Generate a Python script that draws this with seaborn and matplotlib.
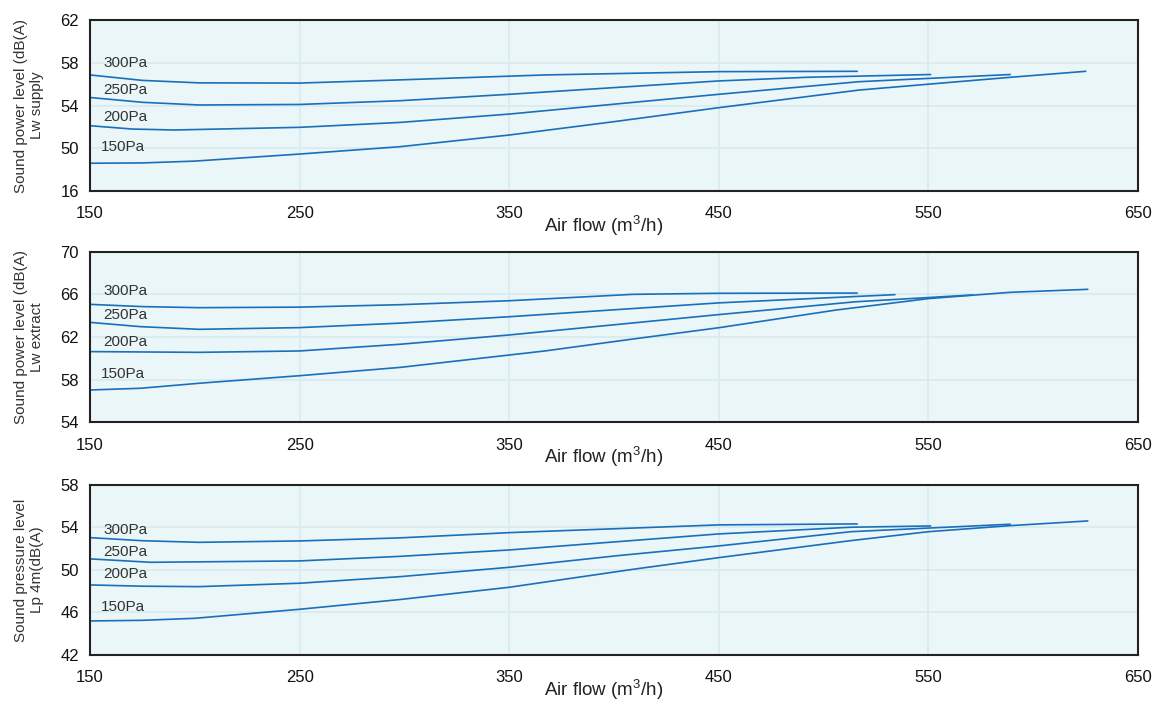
import pandas as pd
import matplotlib
matplotlib.use('Agg')
import matplotlib.pyplot as plt
import seaborn as sns

pressures = ['300Pa', '250Pa', '200Pa', '150Pa']

# Lw supply
supply_x = {
    '300Pa': [150, 175, 202, 250, 298, 367, 450, 516],
    '250Pa': [150, 175, 202, 250, 298, 350, 450, 492, 551],
    '200Pa': [150, 170, 190, 250, 298, 350, 450, 517, 589],
    '150Pa': [150, 175, 200, 250, 298, 350, 400, 450, 517, 589, 625],
}
supply_y = {
    '300Pa': [56.86, 56.35, 56.12, 56.1, 56.4, 56.86, 57.17, 57.2],
    '250Pa': [54.75, 54.3, 54.05, 54.1, 54.45, 55.05, 56.3, 56.64, 56.9],
    '200Pa': [52.11, 51.8, 51.71, 51.96, 52.42, 53.2, 55.05, 56.23, 56.9],
    '150Pa': [48.6, 48.63, 48.8, 49.46, 50.15, 51.24, 52.49, 53.8, 55.45, 56.64, 57.2],
}

# Lw extract
extract_x = {
    '300Pa': [150, 175, 202, 250, 298, 350, 409, 450, 516],
    '250Pa': [150, 174, 202, 250, 298, 350, 450, 534],
    '200Pa': [150, 202, 250, 298, 350, 450, 515, 571],
    '150Pa': [150, 174, 202, 250, 298, 350, 367, 409, 450, 506, 550, 589, 626],
}
extract_y = {
    '300Pa': [65.06, 64.85, 64.75, 64.8, 65.03, 65.4, 66.0, 66.1, 66.12],
    '250Pa': [63.37, 62.97, 62.72, 62.88, 63.3, 63.9, 65.2, 65.97],
    '200Pa': [60.63, 60.56, 60.69, 61.32, 62.19, 64.1, 65.3, 65.94],
    '150Pa': [57.03, 57.19, 57.66, 58.37, 59.15, 60.31, 60.69, 61.81, 62.87, 64.53, 65.6, 66.19, 66.47],
}

# Lp 4m
lp_x = {
    '300Pa': [150, 175, 202, 250, 298, 350, 450, 516],
    '250Pa': [150, 179, 250, 298, 350, 450, 513, 551],
    '200Pa': [150, 175, 202, 250, 298, 350, 402, 450, 513, 589],
    '150Pa': [150, 175, 200, 250, 298, 350, 409, 450, 513, 550, 589, 626],
}
lp_y = {
    '300Pa': [53.04, 52.75, 52.6, 52.73, 53.02, 53.51, 54.24, 54.33],
    '250Pa': [51.04, 50.72, 50.85, 51.28, 51.88, 53.39, 54.02, 54.14],
    '200Pa': [48.59, 48.47, 48.43, 48.75, 49.37, 50.25, 51.35, 52.26, 53.6, 54.3],
    '150Pa': [45.2, 45.26, 45.45, 46.3, 47.22, 48.37, 50.06, 51.16, 52.76, 53.6, 54.17, 54.61],
}

supply_label_y = [58.0, 55.45, 52.9, 50.1]
extract_label_y = [66.3, 64.06, 61.5, 58.5]
lp_label_y = [53.76, 51.73, 49.62, 46.49]

x_ticks = [150, 250, 350, 450, 550, 650]
supply_ticks = [46, 50, 54, 58, 62]
supply_ticklabels = ['16', '50', '54', '58', '62']
extract_ticks = [54, 58, 62, 66, 70]
lp_ticks = [42, 46, 50, 54, 58]

ylabels = ['Sound power level (dB(A)\nLw supply',
           'Sound power level (dB(A)\nLw extract',
           'Sound pressure level\nLp 4m(dB(A)']

sns.set_theme(style='white')
plt.rcParams['font.family'] = ['Liberation Sans', 'DejaVu Sans']
plt.rcParams['mathtext.fontset'] = 'custom'
plt.rcParams['mathtext.rm'] = 'Liberation Sans'
plt.rcParams['mathtext.default'] = 'regular'

line_color = '#1a6fbd'
bg_color = '#eaf6f7'
grid_color = '#d6ecee'

fig = plt.figure(figsize=(11.56, 7.07), dpi=100)
panel_rects = [[0.0779, 0.7298, 0.9066, 0.2419],
               [0.0779, 0.4027, 0.9066, 0.2413],
               [0.0779, 0.0736, 0.9066, 0.2405]]

panels = [
    (supply_x, supply_y, supply_label_y, supply_ticks, supply_ticklabels),
    (extract_x, extract_y, extract_label_y, extract_ticks, [str(t) for t in extract_ticks]),
    (lp_x, lp_y, lp_label_y, lp_ticks, [str(t) for t in lp_ticks]),
]

for i, (xs, ys, label_y, yt, ytl) in enumerate(panels):
    ax = fig.add_axes(panel_rects[i])
    rows = []
    for p in pressures:
        for x, y in zip(xs[p], ys[p]):
            rows.append({'airflow': x, 'level': y, 'pressure': p})
    df = pd.DataFrame(rows)
    sns.lineplot(data=df, x='airflow', y='level', units='pressure', estimator=None,
                 color=line_color, linewidth=1.2, ax=ax, sort=True)
    for p, ly in zip(pressures, label_y):
        xpos = 155.2 if p == '150Pa' else 156.2
        ax.text(xpos, ly, p, fontsize=11, color='#333333', va='center', ha='left')
    ax.set_facecolor(bg_color)
    ax.set_xlim(150, 650)
    ax.set_ylim(yt[0], yt[-1])
    ax.set_xticks(x_ticks)
    ax.set_yticks(yt)
    ax.set_yticklabels(ytl)
    ax.grid(True, color=grid_color, linewidth=1.2)
    ax.set_axisbelow(True)
    for s in ax.spines.values():
        s.set_color('#222222')
        s.set_linewidth(1.5)
    ax.tick_params(axis='both', length=0, labelsize=12, colors='#111111')
    ax.tick_params(axis='x', pad=11)
    ax.tick_params(axis='y', pad=8)
    ax.set_xlabel('Air flow (m$^3$/h)', fontsize=13.5, color='#222222')
    ax.xaxis.set_label_coords(0.49, -0.135)
    ax.set_ylabel(ylabels[i], fontsize=11, color='#333333', linespacing=1.2)
    ax.yaxis.set_label_coords(-0.044, 0.5)
    leg = ax.get_legend()
    if leg:
        leg.remove()

fig.savefig('out.png', dpi=100)
plt.close()
print("Saved out.png")
